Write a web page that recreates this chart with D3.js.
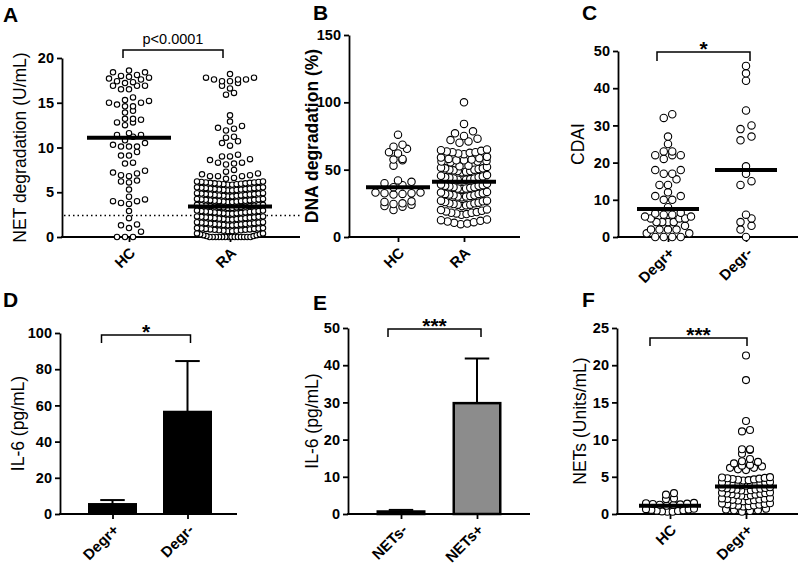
<!DOCTYPE html>
<html><head><meta charset="utf-8">
<script src="https://cdn.jsdelivr.net/npm/d3@7"></script>
<style>body{margin:0;background:#fff}svg{display:block}text{font-family:"Liberation Sans",Arial,Helvetica,sans-serif;fill:#000}</style>
</head><body><svg id="c" width="800" height="568"></svg>
<script>
// ---------- DATA ----------
const catsA = ["HC","RA"];
const ticksA = [0,5,10,15,20];
const valsA_HC = [0,0,0,0.6,1.0,1.3,1.4,2.1,2.9,3.7,3.8,4.0,4.0,4.2,4.5,5.3,6.1,6.2,6.3,6.8,6.9,7.1,7.2,7.4,8.2,8.3,9.1,9.1,9.5,10.1,10.1,10.1,10.3,10.5,10.8,11.2,11.4,11.4,11.6,12.5,12.8,12.8,13.1,13.2,13.2,13.9,14.1,14.6,14.6,14.8,15.0,15.0,15.2,15.3,15.6,16.5,16.5,16.9,16.9,16.9,17.2,17.3,17.4,17.6,17.7,17.8,17.9,18.0,18.1,18.4,18.4,18.6];
const valsA_RA = [
 0,0,0,0,0,0,0,0,0,0,0,0,0,0,0.1,0.1,0.2,0.2,0.3,0.3,0.4,0.4,
 0.65,0.65,0.7,0.7,0.75,0.75,0.8,0.8,0.85,0.85,0.9,0.9,0.95,0.95,1.0,1.0,
 1.3,1.3,1.35,1.35,1.4,1.4,1.45,1.45,1.5,1.5,1.55,1.55,1.6,1.6,1.65,1.65,
 1.95,1.95,2.0,2.0,2.05,2.05,2.1,2.1,2.15,2.15,2.2,2.2,2.25,2.25,2.3,2.3,
 2.6,2.6,2.65,2.65,2.7,2.7,2.75,2.75,2.8,2.8,2.85,2.85,2.9,2.9,2.95,2.95,
 3.25,3.25,3.3,3.3,3.35,3.35,3.4,3.4,3.45,3.45,3.5,3.5,3.55,3.55,3.6,3.6,
 3.9,3.9,3.95,3.95,4.0,4.0,4.05,4.05,4.1,4.1,4.15,4.15,4.2,4.2,4.25,4.25,
 4.55,4.55,4.6,4.6,4.65,4.65,4.7,4.7,4.75,4.75,4.8,4.8,4.85,4.85,4.9,4.9,
 5.2,5.2,5.25,5.25,5.3,5.3,5.35,5.35,5.4,5.4,5.45,5.45,5.5,5.5,5.55,5.55,
 5.85,5.85,5.9,5.9,5.95,5.95,6.0,6.0,6.05,6.05,6.1,6.1,6.15,6.15,6.2,6.2,
 6.5,6.6,6.8,6.8,6.8,6.9,7.0,7.1,7.3,7.5,8.1,8.2,8.3,8.3,8.6,8.7,9.0,9.0,9.2,
 10.2,10.5,10.7,11.1,11.2,11.9,12.1,12.2,12.4,12.9,13.6,15.9,16.1,16.6,16.9,
 17.2,17.4,17.4,17.6,17.6,17.6,17.8,17.8,18.2];
const meanA = [11.1, 3.4];
const cutoffA = 2.4;

const catsB = ["HC","RA"];
const ticksB = [0,50,100,150];
const valsB_HC = [20,22.5,23,24,24.5,25,26,26.5,31.5,32,32.5,32.5,33,33,37,38.5,40,41,42,53,57,57.5,58,62,63,65.5,67,68.5,76];
const valsB_RA = [
 9.5,10,10.5,11,11.5,12,12.5,13,
 16.5,17,17.5,18,18,18.5,19,19.5,20,20.5,
 23,23.5,24,24,24.5,25,25,25.5,26,26.5,27,27,
 29.5,30,30,30.5,31,31,31.5,32,32,32.5,33,33.5,
 35.5,36,36,36.5,37,37,37.5,38,38,38.5,39,39.5,
 42,42.5,42.5,43,43.5,43.5,44,44.5,44.5,45,45.5,46,
 48,48.5,49,49,49.5,50,50,50.5,51,51,51.5,52,52.5,53,
 55.5,56,56,56.5,57,57,57.5,58,58.5,59,59.5,
 61.5,62,62.5,63,63,63.5,64,64.5,65,
 70,71,72,73,75,77,78.5,84,100];
const meanB = [37, 41];

const catsC = ["Degr+","Degr-"];
const ticksC = [0,10,20,30,40,50];
const valsC_P = [0,0,0,0,1,1,2,2,2,2,3,4,4,4,4,5,5,5,5.5,5.5,6,6,6.3,6.5,8,10,10,11,11,12,14,14,15.5,17,17,18,18,21,22,22,22,23,23,25,27,32,33];
const valsC_M = [0,2,3,4,5,6,14,15,17,19,26,27,29,30,34,42,44,46];
const meanC = [7.5, 18];

const catsD = ["Degr+","Degr-"];
const ticksD = [0,20,40,60,80,100];
const barD = [5.5, 56.5];
const errD = [2.2, 28];

const catsE = ["NETs-","NETs+"];
const ticksE = [0,10,20,30,40,50];
const barE = [0.4, 29.8];
const errE = [0.7, 12];

const catsF = ["HC","Degr+"];
const ticksF = [0,5,10,15,20,25];
const valsF_HC = [0.3,0.3,0.35,0.4,0.45,0.5,0.55,0.6,0.65,0.7,1.1,1.2,1.25,1.3,1.35,1.4,1.45,1.5,2.0,2.1,2.6,2.8];
const valsF_P = [
 0.3,0.4,0.5,0.5,0.6,0.7,
 1.0,1.05,1.1,1.15,1.2,1.25,1.3,1.35,1.4,1.45,
 1.7,1.75,1.8,1.85,1.9,1.95,2.0,2.05,2.1,2.15,
 2.4,2.45,2.5,2.55,2.6,2.65,2.7,2.75,2.8,2.85,2.9,
 3.1,3.15,3.2,3.25,3.3,3.35,3.4,3.45,3.5,3.55,3.6,
 3.8,3.85,3.9,3.95,4.0,4.05,4.1,4.15,4.2,4.25,4.3,
 4.5,4.55,4.6,4.65,4.7,4.75,4.8,4.85,4.9,4.95,
 5.9,6.0,6.2,6.2,6.4,6.5,6.6,6.8,7.0,7.1,7.4,8.1,8.6,8.7,8.7,11.1,11.3,12.5,18.0,21.3];
const meanF = [1.1, 3.7];

// ---------- DRAWING ----------
const svg = d3.select("#c");
const AX = 1.8;

function rowLayout(vals, y, binPx, maxSp, maxW) {
  const s = vals.slice().sort((a,b)=>a-b);
  const rows = []; let cur = null;
  s.forEach(v => {
    const py = y(v);
    if (!cur || cur.y0 - py >= binPx) { cur = {y0: py, pts: []}; rows.push(cur); }
    cur.pts.push(v);
  });
  const out = [];
  rows.forEach(r => {
    const n = r.pts.length;
    const sp = n > 1 ? Math.min(maxSp, maxW/(n-1)) : 0;
    const slots = d3.range(n).map(k => (k-(n-1)/2)*sp)
      .sort((a,b)=>Math.abs(a)-Math.abs(b) || a-b);
    r.pts.forEach((v,i)=>out.push({v, dx: slots[i]}));
  });
  return out;
}

function panel(c) {
  const g = svg.append("g");
  const y = d3.scaleLinear().domain([0, c.max]).range([c.y0, c.yTop]);
  const x = d3.scalePoint().domain(c.cats).range(c.catPos);
  const ya = g.append("g").attr("transform", `translate(${c.x0},0)`)
    .call(d3.axisLeft(y).tickValues(c.ticks).tickSize(5).tickSizeOuter(0).tickPadding(3));
  ya.select(".domain").attr("stroke-width", AX);
  ya.selectAll(".tick line").attr("stroke-width", AX);
  ya.selectAll(".tick text").attr("font-size", 14.5).attr("font-weight", "bold")
    .attr("font-family", '"Liberation Sans",Arial,sans-serif');
  g.append("line").attr("x1", c.x0 - 0.9).attr("x2", c.x1).attr("y1", c.y0).attr("y2", c.y0)
    .attr("stroke", "#000").attr("stroke-width", AX);
  const xa = g.append("g").attr("transform", `translate(0,${c.y0})`)
    .call(d3.axisBottom(x).tickSize(5).tickSizeOuter(0));
  xa.select(".domain").remove();
  xa.selectAll(".tick line").attr("stroke-width", AX);
  xa.selectAll(".tick text").attr("font-size", 15).attr("font-weight", "bold")
    .attr("font-family", '"Liberation Sans",Arial,sans-serif')
    .attr("text-anchor", "end").attr("x", 0).attr("y", 0).attr("dy", "0.35em")
    .attr("transform", "translate(3,13) rotate(-45)");
  g.append("text").attr("transform", `translate(${c.titleX},${(c.y0 + c.yTop)/2}) rotate(-90)`)
    .attr("text-anchor", "middle").attr("dy", "0.35em").attr("font-size", 17.5)
    .attr("font-weight", c.titleBold ? "bold" : "normal").text(c.title);
  g.append("text").attr("x", c.lx).attr("y", c.ly).attr("font-size", 21).attr("font-weight", "bold").text(c.letter);
  if (c.br) {
    const bx1 = x(c.cats[0]) + c.br.o1, bx2 = x(c.cats[1]) + c.br.o2, by = c.br.y, d = c.br.drop;
    g.append("path").attr("d", `M${bx1},${by+d}V${by}H${bx2}V${by+d}`)
      .attr("fill", "none").attr("stroke", "#000").attr("stroke-width", 1.5);
    g.append("text").attr("x", (bx1+bx2)/2).attr("y", by + c.br.ty).attr("text-anchor", "middle")
      .attr("font-size", c.br.fs).attr("font-weight", c.br.bold ? "bold" : "normal").text(c.br.text);
  }
  return {g, x, y};
}

function scatter(p, groups, means, r, mw) {
  groups.forEach(gr => {
    const cx = p.x(gr.cat);
    const pts = rowLayout(gr.vals, p.y, gr.bin, gr.sp, gr.w);
    p.g.append("g").selectAll("circle").data(pts).join("circle")
      .attr("cx", d => cx + d.dx).attr("cy", d => p.y(d.v)).attr("r", r)
      .attr("fill", "#fff").attr("stroke", "#000").attr("stroke-width", 1.1);
  });
  p.g.append("g").selectAll("line").data(means).join("line")
    .attr("x1", (d,i) => p.x(groups[i].cat) - mw/2).attr("x2", (d,i) => p.x(groups[i].cat) + mw/2)
    .attr("y1", d => p.y(d)).attr("y2", d => p.y(d)).attr("stroke", "#000").attr("stroke-width", 4);
}

function bars(p, cats, vals, errs, fill, sw) {
  const bw = 49;
  p.g.append("g").selectAll("line").data(vals).join("line")
    .attr("x1", (d,i) => p.x(cats[i])).attr("x2", (d,i) => p.x(cats[i]))
    .attr("y1", d => p.y(d)).attr("y2", (d,i) => p.y(d + errs[i]))
    .attr("stroke", "#000").attr("stroke-width", 2);
  p.g.append("g").selectAll("line").data(vals).join("line")
    .attr("x1", (d,i) => p.x(cats[i]) - bw/4).attr("x2", (d,i) => p.x(cats[i]) + bw/4)
    .attr("y1", (d,i) => p.y(d + errs[i])).attr("y2", (d,i) => p.y(d + errs[i]))
    .attr("stroke", "#000").attr("stroke-width", 2);
  p.g.append("g").selectAll("rect").data(vals).join("rect")
    .attr("x", (d,i) => p.x(cats[i]) - bw/2 + sw/2).attr("width", bw - sw)
    .attr("y", d => Math.min(p.y(d), p.y(0) - sw) ).attr("height", d => Math.max(sw, p.y(0) - p.y(d)))
    .attr("fill", fill).attr("stroke", "#000").attr("stroke-width", sw);
}

const pA = panel({x0:62, x1:300, y0:237, yTop:58, max:20, ticks:ticksA, cats:catsA, catPos:[129,230],
  title:"NET degradation (U/mL)", titleX:20, letter:"A", lx:3, ly:22,
  br:{o1:-6, o2:-7, y:50, drop:8, ty:-6, fs:14.5, text:"p<0.0001"}});
pA.g.append("line").attr("x1", 64).attr("x2", 300).attr("y1", pA.y(cutoffA)).attr("y2", pA.y(cutoffA))
  .attr("stroke", "#000").attr("stroke-width", 1.3).attr("stroke-dasharray", "1.5,3");
scatter(pA, [{cat:"HC", vals:valsA_HC, bin:5.5, sp:8, w:52}, {cat:"RA", vals:valsA_RA, bin:5.5, sp:8, w:66}], meanA, 2.7, 84);

const pB = panel({x0:349, x1:520, y0:237, yTop:35, max:150, ticks:ticksB, cats:catsB, catPos:[398,464],
  title:"DNA degradation (%)", titleBold:true, titleX:312, letter:"B", lx:313, ly:20});
scatter(pB, [{cat:"HC", vals:valsB_HC, bin:6, sp:9, w:54}, {cat:"RA", vals:valsB_RA, bin:6, sp:9, w:46}], meanB, 3.7, 64);

const pC = panel({x0:618, x1:798, y0:237, yTop:51, max:50, ticks:ticksC, cats:catsC, catPos:[668,746],
  title:"CDAI", titleX:578, letter:"C", lx:582, ly:20,
  br:{o1:-11, o2:4, y:52, drop:9, ty:4, fs:21, bold:true, text:"*"}});
scatter(pC, [{cat:"Degr+", vals:valsC_P, bin:7, sp:8.5, w:46}, {cat:"Degr-", vals:valsC_M, bin:7, sp:11, w:40}], meanC, 3.7, 62);

const pD = panel({x0:60, x1:237, y0:514, yTop:333, max:100, ticks:ticksD, cats:catsD, catPos:[112.5,187.5],
  title:"IL-6 (pg/mL)", titleX:18, letter:"D", lx:3, ly:307,
  br:{o1:-11, o2:3, y:335, drop:8, ty:4, fs:21, bold:true, text:"*"}});
bars(pD, catsD, barD, errD, "#000", 2);

const pE = panel({x0:348, x1:530, y0:514, yTop:328, max:50, ticks:ticksE, cats:catsE, catPos:[401,477],
  title:"IL-6 (pg/mL)", titleX:312, letter:"E", lx:313, ly:310,
  br:{o1:-13, o2:4, y:329, drop:8, ty:4, fs:21, bold:true, text:"***"}});
bars(pE, catsE, barE, errE, "#8c8c8c", 2.5);

const pF = panel({x0:617, x1:798, y0:514, yTop:328, max:25, ticks:ticksF, cats:catsF, catPos:[670,746],
  title:"NETs (Units/mL)", titleX:580, letter:"F", lx:582, ly:307,
  br:{o1:-20, o2:1, y:338, drop:8, ty:4, fs:21, bold:true, text:"***"}});
scatter(pF, [{cat:"HC", vals:valsF_HC, bin:4, sp:8, w:48}, {cat:"Degr+", vals:valsF_P, bin:4, sp:8, w:48}], meanF, 3.5, 62);
</script></body></html>
